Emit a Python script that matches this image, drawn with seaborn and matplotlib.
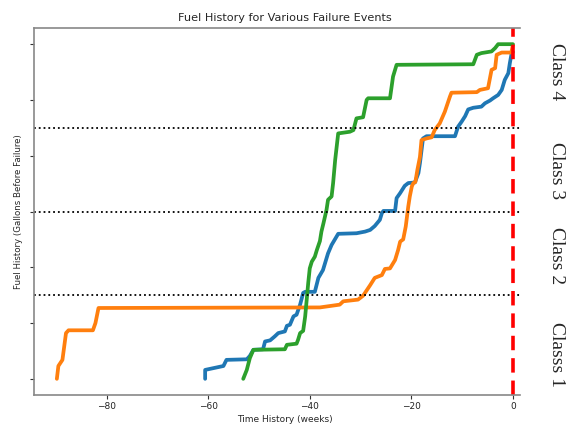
import matplotlib
matplotlib.use("Agg")
import matplotlib.pyplot as plt
import seaborn as sns
import pandas as pd

# ---- data (weeks before failure, normalized fuel history) ----
blue_x = [-60.6, -60.6, -57.0, -56.4, -52.4, -51.8, -51.1, -49.2, -48.8, -47.8, -46.9, -46.2,
          -44.9, -44.5, -43.9, -43.2, -42.6, -41.9, -41.3, -40.9, -39.0, -38.3, -37.4, -36.4,
          -35.7, -34.4, -30.8, -29.1, -28.1, -27.2, -26.2, -25.8, -25.5, -23.2, -22.9, -22.2,
          -21.3, -20.6, -19.3, -18.6, -18.3, -17.7, -17.0, -11.4, -10.8, -10.1, -9.4, -8.8,
          -7.8, -6.2, -5.5, -4.5, -3.9, -2.9, -2.2, -1.6, -0.9, -0.6, -0.3, 0.0]
blue_y = [0.00, 0.16, 0.23, 0.34, 0.35, 0.41, 0.52, 0.53, 0.67, 0.69, 0.76, 0.82,
          0.85, 0.95, 0.97, 1.12, 1.15, 1.33, 1.54, 1.56, 1.56, 1.81, 1.95, 2.25,
          2.40, 2.60, 2.61, 2.64, 2.67, 2.74, 2.85, 2.97, 3.01, 3.01, 3.24, 3.33,
          3.46, 3.51, 3.52, 3.69, 3.87, 4.31, 4.35, 4.35, 4.52, 4.61, 4.71, 4.83,
          4.86, 4.88, 4.94, 4.99, 5.03, 5.09, 5.18, 5.36, 5.48, 5.66, 5.81, 5.86]

orange_x = [-89.8, -89.5, -88.7, -88.0, -87.5, -82.7, -82.2, -81.6, -38.0, -34.1, -33.4,
            -30.5, -29.5, -28.1, -27.2, -25.8, -25.2, -24.2, -23.2, -22.6, -22.2, -21.6,
            -21.1, -20.6, -20.3, -19.9, -19.6, -19.2, -18.8, -18.3, -18.0, -17.0, -16.0,
            -15.4, -14.4, -13.4, -12.4, -12.1, -7.1, -6.5, -4.9, -4.2, -3.5, -3.2, -2.2,
            -0.3, 0.0]
orange_y = [0.00, 0.23, 0.34, 0.82, 0.87, 0.87, 1.00, 1.27, 1.28, 1.33, 1.39,
            1.42, 1.49, 1.68, 1.81, 1.86, 1.97, 1.98, 2.13, 2.31, 2.46, 2.50,
            2.73, 3.09, 3.27, 3.45, 3.51, 3.53, 3.75, 3.98, 4.28, 4.31, 4.33,
            4.46, 4.58, 4.79, 5.06, 5.13, 5.14, 5.18, 5.21, 5.54, 5.57, 5.81, 5.85,
            5.85, 5.99]

green_x = [-53.1, -52.4, -51.8, -51.1, -44.9, -44.5, -42.6, -42.3, -41.9, -41.3, -40.9,
           -40.6, -40.3, -40.0, -39.6, -39.0, -38.6, -38.0, -37.7, -37.3, -36.7, -36.4,
           -35.7, -35.4, -35.0, -34.4, -32.1, -31.4, -30.8, -29.5, -28.8, -28.5, -24.2,
           -23.6, -22.9, -7.8, -7.1, -6.2, -4.2, -3.5, -2.9, 0.0]
green_y = [0.00, 0.16, 0.37, 0.52, 0.53, 0.61, 0.63, 0.70, 0.82, 0.86, 1.12,
           1.42, 1.72, 1.98, 2.10, 2.19, 2.31, 2.47, 2.64, 2.79, 3.03, 3.21,
           3.27, 3.51, 3.92, 4.40, 4.43, 4.46, 4.67, 4.69, 5.00, 5.03, 5.03,
           5.42, 5.63, 5.64, 5.81, 5.84, 5.87, 5.93, 6.00, 6.00]

class_thresholds = [1.5, 3.0, 4.5]
class_labels = ["Class 4", "Class 3", "Class 2", "Classs 1"]
x_ticks = [-80, -60, -40, -20, 0]
y_ticks = [0, 1, 2, 3, 4, 5, 6]

frames = []
for name, xs, ys in [("a", blue_x, blue_y), ("b", orange_x, orange_y), ("c", green_x, green_y)]:
    frames.append(pd.DataFrame({"week": xs, "fuel": ys, "event": name}))
df = pd.concat(frames, ignore_index=True)

sns.set_style("white")
plt.rcParams["font.family"] = ["DejaVu Sans"]

fig = plt.figure(figsize=(5.72, 4.25), dpi=100)
ax = fig.add_axes([34 / 572, 1 - 395 / 425, (520 - 34) / 572, (395 - 28) / 425])

sns.lineplot(data=df, x="week", y="fuel", hue="event", estimator=None, sort=False,
             palette=["#1f77b4", "#ff7f0e", "#2ca02c"], linewidth=2.7, legend=False, ax=ax)

for t in class_thresholds:
    ax.axhline(t, color="black", linestyle=":", linewidth=1.3)
ax.axvline(0, color="red", linestyle="--", linewidth=2.6, dashes=(4, 2.2))

ax.set_xlim(-94.3, 1.4)
ax.set_ylim(-0.29, 6.29)
ax.set_xticks(x_ticks)
ax.set_yticks(y_ticks)
ax.set_yticklabels([])
ax.tick_params(axis="both", which="both", length=3, width=0.8, colors="#333333",
               labelsize=6.5, left=True, bottom=True, pad=2)
ax.tick_params(axis="x", labelcolor="#222222")
for side in ["left", "bottom", "top"]:
    ax.spines[side].set_color("#888888")
    ax.spines[side].set_linewidth(1.2)
ax.spines["right"].set_visible(False)

title_x = (285 - 34) / (520 - 34)
ax.set_title("Fuel History for Various Failure Events", fontsize=8.1, pad=5, x=title_x)
ax.set_xlabel("Time History (weeks)", fontsize=6.5, labelpad=2)
ax.xaxis.set_label_coords(title_x, -0.055)
ax.set_ylabel("Fuel History (Gallons Before Failure)", fontsize=6.2, labelpad=3)

label_y = [72, 171, 256, 354]
for lab, yp in zip(class_labels, label_y):
    fig.text(556 / 572, 1 - yp / 425, lab, rotation=-90, ha="center", va="center",
             fontsize=14, family="Liberation Serif")

fig.savefig("out.png", dpi=100)
